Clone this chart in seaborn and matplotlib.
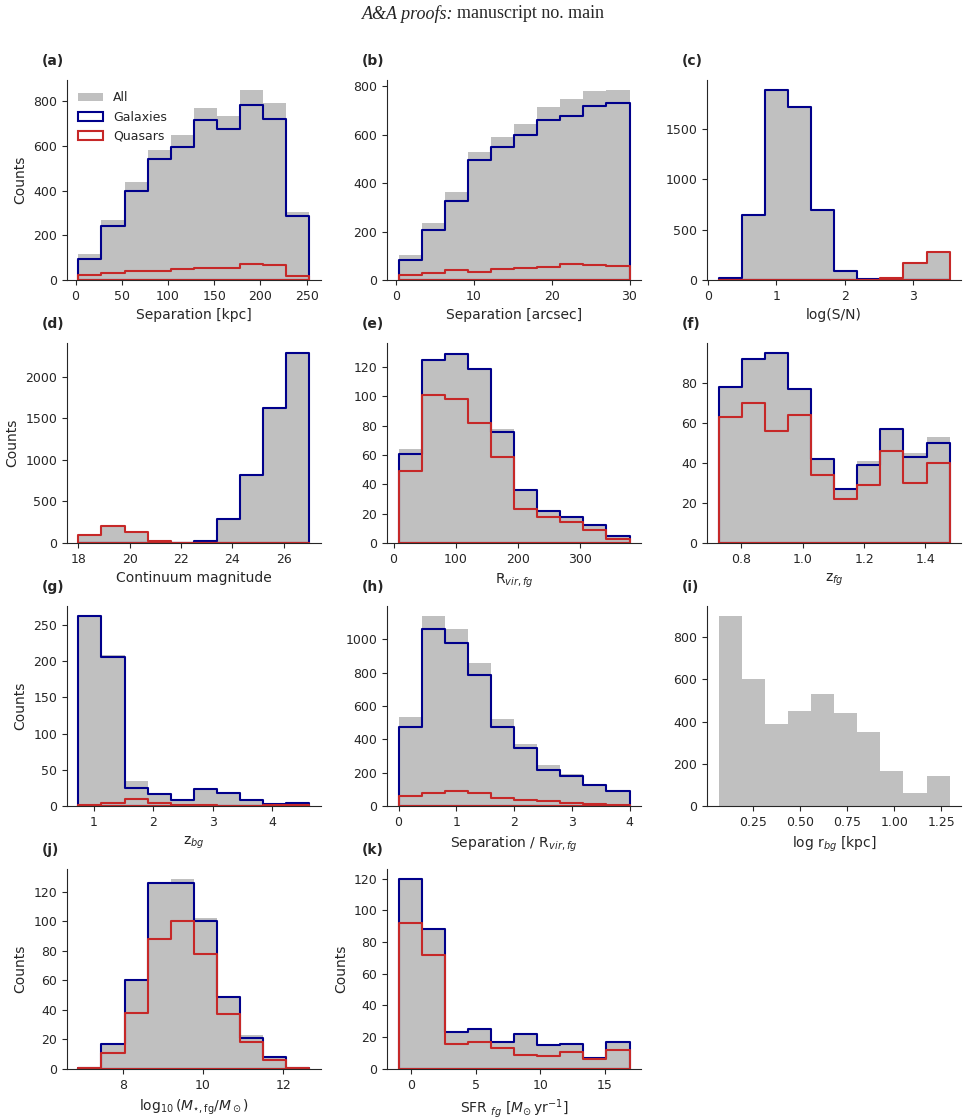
import numpy as np
import pandas as pd
import matplotlib
matplotlib.use("Agg")
import matplotlib.pyplot as plt
import seaborn as sns

# --- data: 10 bins per panel, (lo, hi) bin range + counts ---
sep_kpc_range = (3, 253)
sep_kpc_all = [118, 268, 440, 583, 648, 768, 735, 852, 792, 305]
sep_kpc_gal = [95, 240, 398, 540, 597, 715, 677, 782, 722, 285]
sep_kpc_qso = [22, 30, 40, 42, 50, 53, 55, 72, 68, 18]

sep_arc_range = (0.3, 30)
sep_arc_all = [104, 235, 365, 530, 592, 644, 713, 747, 779, 787]
sep_arc_gal = [83, 208, 328, 495, 549, 598, 663, 678, 718, 733]
sep_arc_qso = [22, 30, 40, 35, 44, 50, 53, 68, 62, 57]

logsn_range = (0.16, 3.53)
logsn_all = [17, 640, 1887, 1715, 695, 93, 10, 20, 166, 278]
logsn_gal = [17, 640, 1887, 1715, 695, 93, 10, 3, 0, 0]
logsn_qso = [0, 0, 0, 0, 0, 0, 0, 17, 166, 278]

cmag_range = (18.0, 27.0)
cmag_all = [100, 200, 133, 28, 8, 24, 289, 823, 1622, 2289]
cmag_gal = [0, 0, 0, 0, 3, 24, 289, 823, 1622, 2289]
cmag_qso = [100, 200, 133, 28, 5, 0, 0, 0, 0, 0]

rvir_range = (8, 380)
rvir_all = [64, 125, 130, 119, 78, 36, 22, 18, 12, 5]
rvir_gal = [61, 125, 129, 119, 76, 36, 22, 18, 12, 5]
rvir_qso = [49, 101, 98, 82, 59, 23, 18, 14, 9, 3]

zfg_range = (0.726, 1.479)
zfg_all = [78, 92, 95, 77, 42, 27, 41, 57, 45, 53]
zfg_gal = [78, 92, 95, 77, 42, 27, 39, 57, 43, 50]
zfg_qso = [63, 70, 56, 64, 34, 22, 29, 46, 30, 40]

zbg_range = (0.737, 4.62)
zbg_all = [263, 209, 34, 17, 9, 25, 18, 8, 3, 4]
zbg_gal = [263, 206, 25, 17, 8, 24, 18, 8, 3, 4]
zbg_qso = [2, 4, 10, 4, 2, 1, 0, 0, 1, 1]

seprv_range = (0, 4)
seprv_all = [535, 1142, 1062, 860, 523, 373, 248, 194, 128, 92]
seprv_gal = [475, 1064, 980, 786, 473, 345, 218, 180, 128, 92]
seprv_qso = [60, 78, 88, 76, 50, 34, 30, 18, 10, 6]

logrbg_range = (0.070, 1.294)
logrbg_all = [903, 601, 387, 449, 531, 441, 351, 168, 63, 144]

mstar_range = (6.888, 12.656)
mstar_all = [1, 17, 60, 126, 129, 102, 49, 23, 8, 1]
mstar_gal = [1, 17, 60, 126, 126, 100, 49, 21, 8, 1]
mstar_qso = [1, 11, 38, 88, 100, 78, 37, 18, 6, 1]

sfr_range = (-1.0, 16.9)
sfr_all = [120, 88, 23, 25, 17, 22, 15, 16, 7, 17]
sfr_gal = [120, 88, 23, 25, 17, 22, 15, 16, 7, 17]
sfr_qso = [92, 72, 16, 17, 13, 9, 8, 11, 6, 12]

GREY = "silver"
BLUE = "darkblue"
RED = "#c62828"

sns.set_style("ticks")
plt.rcParams["font.family"] = ["DejaVu Sans"]
plt.rcParams["xtick.labelsize"] = 9
plt.rcParams["ytick.labelsize"] = 9
plt.rcParams["axes.labelsize"] = 10


def draw_hist(ax, rng, counts, color, label, filled=False):
    edges = np.linspace(rng[0], rng[1], len(counts) + 1)
    df = pd.DataFrame({"x": 0.5 * (edges[:-1] + edges[1:]), "w": counts})
    if filled:
        sns.histplot(data=df, x="x", weights="w", bins=list(edges), element="step",
                     fill=True, color=color, alpha=1, linewidth=0,
                     label=label, ax=ax)
    else:
        sns.histplot(data=df, x="x", weights="w", bins=list(edges), element="step",
                     fill=True, facecolor="none", color=color, linewidth=1.5,
                     label=label, ax=ax)


panels = [
    ("(a)", sep_kpc_range, sep_kpc_all, sep_kpc_gal, sep_kpc_qso, "Separation [kpc]", True),
    ("(b)", sep_arc_range, sep_arc_all, sep_arc_gal, sep_arc_qso, "Separation [arcsec]", False),
    ("(c)", logsn_range, logsn_all, logsn_gal, logsn_qso, "log(S/N)", False),
    ("(d)", cmag_range, cmag_all, cmag_gal, cmag_qso, "Continuum magnitude", True),
    ("(e)", rvir_range, rvir_all, rvir_gal, rvir_qso, r"R$_{vir, fg}$", False),
    ("(f)", zfg_range, zfg_all, zfg_gal, zfg_qso, r"z$_{fg}$", False),
    ("(g)", zbg_range, zbg_all, zbg_gal, zbg_qso, r"z$_{bg}$", True),
    ("(h)", seprv_range, seprv_all, seprv_gal, seprv_qso, r"Separation / R$_{vir, fg}$", False),
    ("(i)", logrbg_range, logrbg_all, None, None, r"log r$_{bg}$ [kpc]", False),
    ("(j)", mstar_range, mstar_all, mstar_gal, mstar_qso,
     r"$\log_{10}(M_{\star,\mathrm{fg}}/M_\odot)$", True),
    ("(k)", sfr_range, sfr_all, sfr_gal, sfr_qso,
     r"SFR $_{fg}$ [$M_{\odot}\,\mathrm{yr}^{-1}$]", True),
]

fig, axes = plt.subplots(4, 3, figsize=(9.68, 11.19), dpi=100)
fig.subplots_adjust(left=0.069, right=0.993, top=0.9285, bottom=0.0447,
                    wspace=0.26, hspace=0.315)

for ax, (tag, rng, c_all, c_gal, c_qso, xlab, counts_lab) in zip(axes.flat, panels):
    draw_hist(ax, rng, c_all, GREY, "All", filled=True)
    if c_gal is not None:
        draw_hist(ax, rng, c_gal, BLUE, "Galaxies")
        draw_hist(ax, rng, c_qso, RED, "Quasars")
    ax.set_xlabel(xlab)
    ax.set_ylabel("Counts" if counts_lab else "")
    ax.text(-0.1, 1.06, tag, transform=ax.transAxes, fontsize=10,
            fontweight="bold", va="bottom", ha="left")
    sns.despine(ax=ax)

axes[0, 0].legend(loc="upper left", frameon=False, fontsize=9)
axes[3, 2].axis("off")

# page header from the paper
fig.text(0.4685, 0.9875, "A&A proofs:", ha="right", va="center", fontsize=13,
         family="Liberation Serif", style="italic")
fig.text(0.4725, 0.9875, "manuscript no. main", ha="left", va="center",
         fontsize=13, family="Liberation Serif")

fig.savefig("out.png", dpi=100)
